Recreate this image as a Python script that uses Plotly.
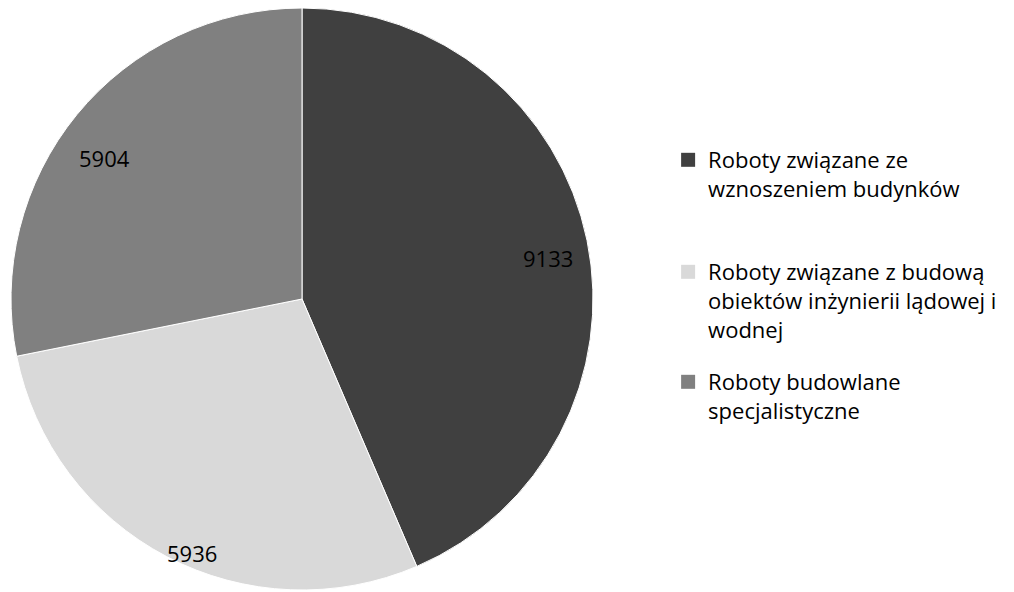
import math
import plotly.graph_objects as go

categories = [
    "Roboty związane ze<br>wznoszeniem budynków",
    "Roboty związane z budową<br>obiektów inżynierii lądowej i<br>wodnej",
    "Roboty budowlane<br>specjalistyczne",
]
values = [9133, 5936, 5904]
colors = ["#404040", "#d9d9d9", "#808080"]
label_radius = [0.857, 0.951, 0.833]  # fraction of pie radius where the value label sits
label_angle_shift = [2.1, -4.3, -3.7]  # degrees off each slice's bisector
legend_y = [0.7787, 0.5895, 0.4037]  # top of each legend entry (paper coords)

W, H = 1014, 592
CX, CY, R = 294, 291, 291  # pie centre / radius in figure pixels

fig = go.Figure(go.Pie(
    labels=categories,
    values=values,
    sort=False,
    direction="clockwise",
    rotation=0,
    marker=dict(colors=colors, line=dict(color="#ffffff", width=1)),
    textinfo="none",
    showlegend=False,
    domain=dict(x=[(CX - R) / W, (CX + R) / W], y=[(H - CY - R) / H, (H - CY + R) / H]),
    hoverinfo="label+value",
))

# value labels placed near each slice's bisector, computed from the data
total = sum(values)
cum = 0
for v, f, da in zip(values, label_radius, label_angle_shift):
    mid = (cum + v / 2) / total * 2 * math.pi + math.radians(da)
    cum += v
    px = CX + f * R * math.sin(mid)
    py = CY - f * R * math.cos(mid)
    fig.add_annotation(
        x=px / W, y=1 - py / H, xref="paper", yref="paper",
        xanchor="center", yanchor="middle",
        text=str(v), showarrow=False,
        font=dict(family="Open Sans", size=22, color="#000000"),
    )

# legend entries (one legend per category, to reproduce the uneven spacing)
legend_font = dict(family="Open Sans", size=22, color="#000000")
layout_legends = {}
for i, (name, col, ly) in enumerate(zip(categories, colors, legend_y)):
    key = "legend" if i == 0 else f"legend{i + 1}"
    fig.add_trace(go.Scatter(
        x=[None], y=[None], mode="markers", name=name,
        marker=dict(symbol="square", size=14, color=col),
        legend=key, hoverinfo="skip",
    ))
    layout_legends[key] = dict(
        x=0.651, y=ly, xanchor="left", yanchor="top",
        valign="top", font=legend_font, itemwidth=30,
        bgcolor="rgba(0,0,0,0)",
    )

fig.update_layout(
    width=W, height=H,
    margin=dict(l=0, r=0, t=0, b=0),
    paper_bgcolor="#ffffff",
    plot_bgcolor="#ffffff",
    font=dict(family="Open Sans", size=22, color="#000000"),
    xaxis=dict(visible=False),
    yaxis=dict(visible=False),
    **layout_legends,
)

fig.write_html("out.html")
